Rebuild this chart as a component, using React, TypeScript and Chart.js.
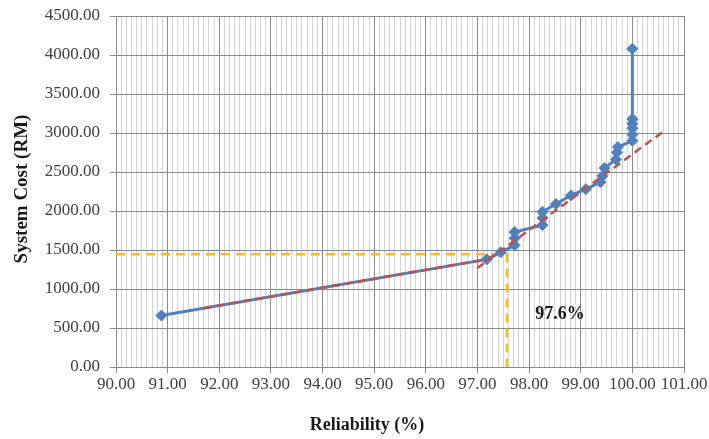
import React, { useEffect, useRef } from 'react';
import { Chart, registerables } from 'chart.js';

Chart.register(...registerables);

// ---- data ----
const reliability = [90.88, 97.18, 97.45, 97.72, 97.72, 97.72, 98.26, 98.26, 98.26, 98.52, 98.81, 99.1, 99.38, 99.42, 99.46, 99.68, 99.7, 99.72, 100.0, 100.0, 100.0, 100.0, 100.0, 100.0];
const systemCost = [660, 1380, 1470, 1560, 1650, 1730, 1820, 1910, 1990, 2090, 2200, 2280, 2370, 2450, 2550, 2660, 2750, 2820, 2900, 2980, 3060, 3120, 3180, 4080];

const trendLowX = [91.7, 97.2];
const trendLowY = [754, 1382];
const trendHighX = [97.0, 100.6];
const trendHighY = [1270, 3020];

const guideX = [90, 97.57, 97.57];
const guideY = [1445, 1445, 0];

const xMajorTicks = [90, 91, 92, 93, 94, 95, 96, 97, 98, 99, 100, 101];
const yTicks = [0, 500, 1000, 1500, 2000, 2500, 3000, 3500, 4000, 4500];

const markerText = '97.6%';
const markerAt = { x: 98.6, y: 670 };

const xTitle = 'Reliability (%)';
const yTitle = 'System Cost (RM)';

const toPoints = (xs: number[], ys: number[]) => xs.map((x, i) => ({ x, y: ys[i] }));

const SERIF = '"Liberation Serif", "Times New Roman", serif';
const MAJOR = '#8a8a8a';
const MINOR = '#d3d3d3';

const isMajor = (v: number) => xMajorTicks.some((m) => Math.abs(m - v) < 1e-6);

const textPlugin = {
  id: 'textPlugin',
  afterDraw(chart: any) {
    const { ctx, scales } = chart;
    ctx.save();
    ctx.fillStyle = '#1a1a1a';
    ctx.textAlign = 'center';
    ctx.textBaseline = 'middle';
    ctx.font = `bold 18px ${SERIF}`;
    ctx.fillText(xTitle, 367, 425);
    ctx.save();
    ctx.translate(22, 189);
    ctx.rotate(-Math.PI / 2);
    ctx.font = `bold 19px ${SERIF}`;
    ctx.fillText(yTitle, 0, 0);
    ctx.restore();
    ctx.font = `bold 18px ${SERIF}`;
    ctx.fillText(markerText, scales.x.getPixelForValue(markerAt.x), scales.y.getPixelForValue(markerAt.y));
    ctx.restore();
  },
};

export default function App() {
  const ref = useRef<HTMLCanvasElement>(null);

  useEffect(() => {
    if (!ref.current) return;
    const chart = new Chart(ref.current, {
      type: 'scatter',
      data: {
        datasets: [
          {
            label: 'Trend (low)',
            data: toPoints(trendLowX, trendLowY),
            showLine: true,
            borderColor: '#C0504D',
            borderWidth: 2.5,
            borderDash: [8, 5],
            pointRadius: 0,
            order: 0,
          },
          {
            label: 'Trend (high)',
            data: toPoints(trendHighX, trendHighY),
            showLine: true,
            borderColor: '#C0504D',
            borderWidth: 2.5,
            borderDash: [8, 5],
            pointRadius: 0,
            order: 0,
          },
          {
            label: 'System Cost',
            data: toPoints(reliability, systemCost),
            showLine: true,
            borderColor: '#4F81BD',
            borderWidth: 3,
            pointStyle: 'rectRot',
            pointRadius: 5.5,
            pointBackgroundColor: '#4F81BD',
            pointBorderColor: '#4F81BD',
            pointBorderWidth: 1,
            order: 1,
          },
          {
            label: 'Guide',
            data: toPoints(guideX, guideY),
            showLine: true,
            borderColor: '#FFC000',
            borderWidth: 2.5,
            borderDash: [9, 6],
            pointRadius: 0,
            order: 2,
          },
        ],
      },
      options: {
        animation: false,
        responsive: true,
        maintainAspectRatio: false,
        layout: { padding: { left: 0, right: 25, top: 16, bottom: 0 } },
        plugins: { legend: { display: false }, tooltip: { enabled: false } },
        scales: {
          x: {
            type: 'linear',
            min: 90,
            max: 101,
            afterBuildTicks: (scale: any) => {
              const t: any[] = [];
              for (let i = 0; i < xMajorTicks.length; i++) {
                for (let k = 0; k < 10; k++) {
                  if (i === xMajorTicks.length - 1 && k > 0) break;
                  t.push({ value: Math.round((xMajorTicks[i] + k / 10) * 10) / 10 });
                }
              }
              scale.ticks = t;
            },
            afterFit: (scale: any) => {
              scale.height = 72;
              scale.paddingLeft = 0;
              scale.paddingRight = 0;
            },
            ticks: {
              autoSkip: false,
              maxRotation: 0,
              minRotation: 0,
              padding: 1,
              color: '#404040',
              font: { family: SERIF, size: 17 },
              callback: (v: any) => (isMajor(Number(v)) ? Number(v).toFixed(2) : ''),
            },
            grid: {
              color: (c: any) => (c.tick && isMajor(c.tick.value) ? MAJOR : MINOR),
              tickColor: (c: any) => (c.tick && isMajor(c.tick.value) ? MAJOR : 'rgba(0,0,0,0)'),
              tickLength: 6,
              lineWidth: 1,
            },
            border: { color: MAJOR, width: 1 },
          },
          y: {
            type: 'linear',
            min: 0,
            max: 4500,
            afterBuildTicks: (scale: any) => {
              scale.ticks = yTicks.map((v) => ({ value: v }));
            },
            afterFit: (scale: any) => {
              scale.width = 116;
              scale.paddingTop = 0;
              scale.paddingBottom = 0;
            },
            ticks: {
              padding: 10,
              color: '#404040',
              font: { family: SERIF, size: 17 },
              callback: (v: any) => Number(v).toFixed(2),
            },
            grid: { color: MAJOR, tickColor: MAJOR, tickLength: 6, lineWidth: 1 },
            border: { color: MAJOR, width: 1 },
          },
        },
      },
      plugins: [textPlugin],
    });
    return () => chart.destroy();
  }, []);

  return (
    <div style={{ position: 'fixed', left: 0, top: 0, width: 709, height: 439, background: '#fff' }}>
      <canvas ref={ref} />
    </div>
  );
}
